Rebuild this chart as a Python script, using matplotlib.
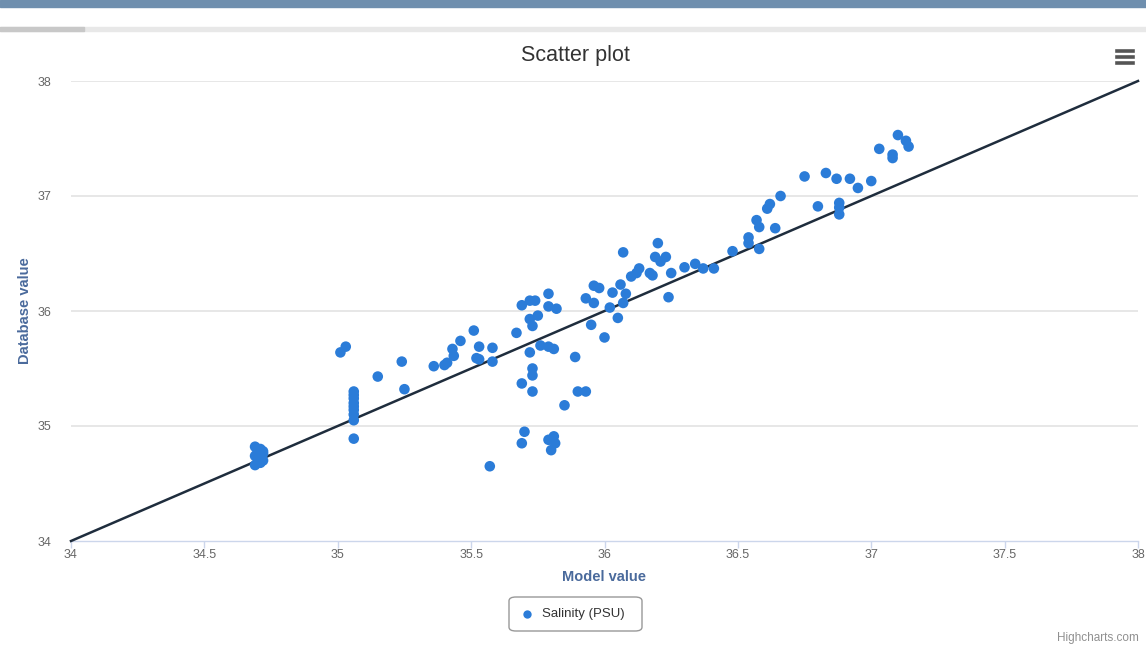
import matplotlib
matplotlib.use("Agg")
import matplotlib.pyplot as plt
from matplotlib.patches import Rectangle, FancyBboxPatch
from matplotlib.lines import Line2D

plt.rcParams['font.family'] = ['Liberation Sans', 'DejaVu Sans']

model_value = [
    34.69, 34.70, 34.71, 34.70, 34.69, 34.72, 34.70, 34.71, 34.69, 34.72, 34.70, 34.71, 34.70, 34.72,
    35.06, 35.06, 35.06, 35.06, 35.06, 35.06, 35.06, 35.06, 35.06,
    35.01, 35.03, 35.15, 35.24, 35.25,
    35.36, 35.40, 35.41, 35.43, 35.435, 35.46, 35.51, 35.53, 35.52, 35.53, 35.58, 35.58, 35.57,
    35.67, 35.69, 35.70, 35.69,
    35.69, 35.72, 35.74, 35.79, 35.79, 35.82, 35.72, 35.75, 35.73,
    35.72, 35.76, 35.79, 35.81, 35.89, 35.73, 35.73, 35.73, 35.90, 35.93, 35.85,
    35.81, 35.815, 35.80, 35.79,
    35.95, 35.96, 35.98, 35.93, 35.96, 36.00,
    36.05, 36.03, 36.06, 36.08, 36.07, 36.02,
    36.07, 36.10, 36.12, 36.13, 36.17, 36.18, 36.20, 36.19, 36.21, 36.23, 36.24, 36.25,
    36.30, 36.34, 36.37, 36.41,
    36.48, 36.54, 36.54, 36.58, 36.57, 36.58, 36.64, 36.61, 36.62, 36.66,
    36.75, 36.80, 36.83, 36.87, 36.88, 36.88, 36.88, 36.92, 36.95, 37.00,
    37.03, 37.08, 37.08, 37.10, 37.13, 37.14,
]
database_value = [
    34.66, 34.68, 34.70, 34.72, 34.74, 34.76, 34.78, 34.80, 34.82, 34.70, 34.75, 34.68, 34.72, 34.78,
    35.30, 35.27, 35.24, 35.20, 35.17, 35.14, 35.10, 35.05, 34.89,
    35.64, 35.69, 35.43, 35.56, 35.32,
    35.52, 35.53, 35.55, 35.67, 35.61, 35.74, 35.83, 35.69, 35.59, 35.58, 35.68, 35.56, 34.65,
    35.81, 35.37, 34.95, 34.85,
    36.05, 36.09, 36.09, 36.15, 36.04, 36.02, 35.93, 35.96, 35.87,
    35.64, 35.70, 35.69, 35.67, 35.60, 35.50, 35.44, 35.30, 35.30, 35.30, 35.18,
    34.91, 34.85, 34.79, 34.88,
    35.88, 36.22, 36.20, 36.11, 36.07, 35.77,
    35.94, 36.16, 36.23, 36.15, 36.07, 36.03,
    36.51, 36.30, 36.33, 36.37, 36.33, 36.31, 36.59, 36.47, 36.43, 36.47, 36.12, 36.33,
    36.38, 36.41, 36.37, 36.37,
    36.52, 36.64, 36.59, 36.54, 36.79, 36.73, 36.72, 36.89, 36.93, 37.00,
    37.17, 36.91, 37.20, 37.15, 36.94, 36.84, 36.90, 37.15, 37.07, 37.13,
    37.41, 37.36, 37.33, 37.53, 37.48, 37.43,
]
series_name = "Salinity (PSU)"
x_ticks = [34, 34.5, 35, 35.5, 36, 36.5, 37, 37.5, 38]
x_labels = ["34", "34.5", "35", "35.5", "36", "36.5", "37", "37.5", "38"]
y_ticks = [34, 35, 36, 37, 38]
line_ends = [34, 38]

W, H = 1146, 649
fig = plt.figure(figsize=(W / 100, H / 100), dpi=100)

# screenshot decorations at the top
fig.patches.append(Rectangle((0, 1 - 7 / H), 1, 7 / H, transform=fig.transFigure,
                             color="#6f8fae", zorder=0))
fig.patches.append(Rectangle((0, 1 - 31 / H), 1, 4 / H, transform=fig.transFigure,
                             color="#e8e8e8", zorder=0))
fig.patches.append(Rectangle((0, 1 - 31 / H), 84 / W, 4 / H, transform=fig.transFigure,
                             color="#c8c8c8", zorder=0))

ax = fig.add_axes([71 / W, 108 / H, (1138 - 71) / W, (541 - 81) / H])
ax.set_xlim(34, 38)
ax.set_ylim(34, 38)

ax.set_yticks(y_ticks)
ax.set_yticklabels([str(v) for v in y_ticks])
ax.set_xticks(x_ticks)
ax.set_xticklabels(x_labels)
for v in y_ticks[1:]:
    ax.axhline(v, color="#e3e3e3", lw=1.2, zorder=1)

for s in ["top", "right", "left"]:
    ax.spines[s].set_visible(False)
ax.spines["bottom"].set_color("#ccd6eb")
ax.spines["bottom"].set_linewidth(1)
ax.tick_params(axis="x", colors="#ccd6eb", length=5, width=1, labelcolor="#666666",
               labelsize=9, pad=1)
ax.tick_params(axis="y", length=0, labelcolor="#666666", labelsize=9, pad=14)

ax.plot(line_ends, line_ends, color="#1f2d3d", lw=1.8, zorder=3, clip_on=False)
ax.scatter(model_value, database_value, s=58, color="#2b7cd8", edgecolors="none",
           zorder=4, clip_on=False)

ax.set_xlabel("Model value", color="#4a6a9c", fontsize=10.5, fontweight="bold", labelpad=6)
ax.set_ylabel("Database value", color="#4a6a9c", fontsize=10.5, fontweight="bold", labelpad=4)

fig.text(575 / W, 1 - 55 / H, "Scatter plot", ha="center", va="center", fontsize=15.5,
         color="#333333")

# menu icon
for dy in (-6, 0, 6):
    fig.lines.append(Line2D([1117 / W, 1133 / W], [1 - (57 + dy) / H] * 2,
                            transform=fig.transFigure, color="#555555", lw=2.6))

# legend box
lx0, lx1, ly0, ly1 = 509, 642, 597, 631
fig.patches.append(FancyBboxPatch((lx0 / W, 1 - ly1 / H), (lx1 - lx0) / W, (ly1 - ly0) / H,
                                  boxstyle="round,pad=0,rounding_size=0.006",
                                  transform=fig.transFigure, facecolor="white",
                                  edgecolor="#999999", lw=1))
fig.lines.append(Line2D([527 / W], [1 - 614 / H], transform=fig.transFigure, marker="o",
                        markersize=6, color="#2b7cd8", markeredgewidth=0))
fig.text(542 / W, 1 - 614 / H, series_name, ha="left", va="center", fontsize=9.5,
         color="#333333")

fig.text(1139 / W, 1 - 638 / H, "Highcharts.com", ha="right", va="center", fontsize=8.5,
         color="#909090")

fig.savefig("out.png", dpi=100)
